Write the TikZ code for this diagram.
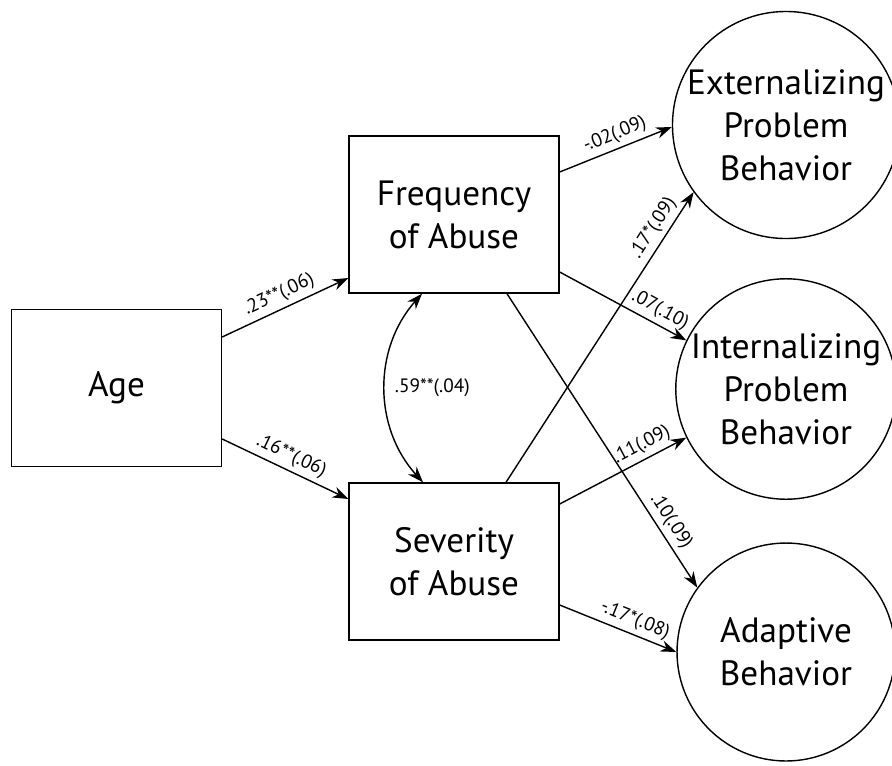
\documentclass[tikz,border=0pt]{standalone}
\usepackage{fontspec}
\setmainfont{PT Sans}
\usetikzlibrary{arrows.meta}

\begin{document}
\begin{tikzpicture}[x=0.02cm,y=-0.02cm,
    obs/.style={draw, line width=0.8pt, minimum width=4.2cm, minimum height=3.14cm,
        align=center, font=\fontsize{20}{24.5}\selectfont},
    lat/.style={draw, circle, line width=0.8pt, minimum size=4.36cm, inner sep=0pt,
        align=center, font=\fontsize{20}{24.5}\selectfont},
    link/.style={-{Stealth[length=9pt,width=6.5pt]}, line width=0.8pt},
    coef/.style={sloped, above, inner sep=2.5pt, font=\fontsize{11}{13}\selectfont}]
    \useasboundingbox (0,0) rectangle (892,765);
    % observed variables
    \node[obs] (age)  at (116.5,388) {Age};
    \node[obs] (freq) at (454,214.5) {Frequency\\of Abuse};
    \node[obs] (sev)  at (454,561.5) {Severity\\of Abuse};
    % outcomes
    \node[lat] (ext)   at (786,125) {Externalizing\\Problem\\Behavior};
    \node[lat] (int)   at (786,389) {Internalizing\\Problem\\Behavior};
    \node[lat] (adapt) at (786,652) {Adaptive\\Behavior};
    % paths (start, start offset, end, end offset, label pos, label)
    \foreach \a/\sa/\b/\sb/\p/\t in {
        age.east/{0,-51}/freq.west/{0,63.5}/0.5/{.23**(.06)},
        age.east/{0,51}/sev.west/{0,-62.5}/0.5/{.16**(.06)},
        freq.east/{0,-42.5}/ext.181/{0,0}/0.54/{-.02(.09)},
        freq.east/{0,57.5}/int.154/{0,0}/0.74/{.07(.10)},
        freq.south/{53,0}/adapt.144/{0,0}/0.8/{.10(.09)},
        sev.north/{52,0}/ext.216/{0,0}/0.85/{.17*(.09)},
        sev.east/{0,-57.5}/int.206/{0,0}/0.7/{.11(.09)},
        sev.east/{0,43.5}/adapt.180/{0,0}/0.6/{-.17*(.08)}} {
        \draw[link] ([shift={(\sa)}]\a) -- node[coef,pos=\p] {\t} ([shift={(\sb)}]\b);
    }
    % correlation
    \draw[link, {Stealth[length=9pt,width=6.5pt]}-{Stealth[length=9pt,width=6.5pt]}]
        ([shift={(-32,0)}]freq.south) to[bend right=42]
        node[right, inner sep=5pt, font=\fontsize{11}{13}\selectfont] (corr) {.59**(.04)}
        ([shift={(-31,0)}]sev.north);
\end{tikzpicture}
\end{document}
